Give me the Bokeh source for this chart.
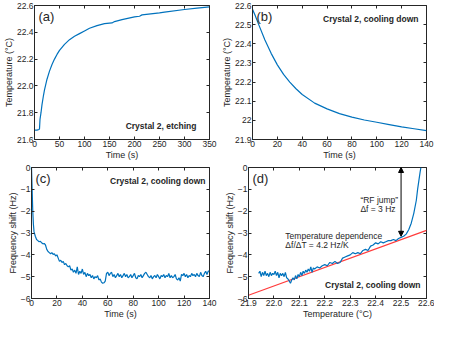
from bokeh.plotting import figure
from bokeh.layouts import column, row
from bokeh.models import FixedTicker, LinearAxis, Range1d, Label, Arrow, NormalHead
from bokeh.embed import file_html
from bokeh.resources import INLINE

# ---------------- data ----------------
# (a) Crystal 2, etching: temperature vs time
a_time = [0, 5, 9, 10, 11, 13, 15, 18, 20, 25, 30, 35, 40, 45, 50, 60, 70, 80, 90,
          100, 110, 125, 140, 155, 160, 175, 200, 210, 215, 250, 260, 300, 325, 350]
a_temp = [21.67, 21.67, 21.675, 21.68, 21.75, 21.80, 21.86, 21.93, 21.97, 22.05, 22.11,
          22.16, 22.20, 22.235, 22.265, 22.31, 22.345, 22.37, 22.39, 22.41, 22.43, 22.45,
          22.465, 22.47, 22.48, 22.495, 22.515, 22.52, 22.53, 22.545, 22.55, 22.57,
          22.58, 22.59]

# (b) Crystal 2, cooling down: temperature vs time
b_time = [0, 2, 5, 10, 15, 20, 25, 30, 35, 40, 50, 60, 70, 80, 90, 100, 110, 120, 130, 140]
b_temp = [22.58, 22.55, 22.50, 22.42, 22.35, 22.29, 22.24, 22.20, 22.165, 22.135, 22.09,
          22.06, 22.035, 22.017, 22.002, 21.99, 21.978, 21.966, 21.956, 21.946]

# (c) Crystal 2, cooling down: frequency shift vs time
c_time = [0, 0.5, 1, 1.5, 2, 3, 4, 5, 6, 7, 8, 9, 10, 11, 12, 13, 14, 15, 16, 17, 18, 19,
          20, 21, 22, 23, 24, 25, 26, 27, 28, 29, 30, 31, 32, 33, 34, 35, 36, 37, 38, 39,
          40, 41, 42, 43, 44, 45, 46, 47, 48, 49, 50, 51, 52, 53, 54, 55, 56, 57, 58, 59,
          60, 61, 62, 63, 64, 65, 66, 67, 68, 69, 70, 71, 72, 73, 74, 75, 76, 77, 78, 79,
          80, 81, 82, 83, 84, 85, 86, 87, 88, 89, 90, 91, 92, 93, 94, 95, 96, 97, 98, 99,
          100, 101, 102, 103, 104, 105, 106, 107, 108, 109, 110, 111, 112, 113, 114, 115,
          116, 117, 118, 119, 120, 121, 122, 123, 124, 125, 126, 127, 128, 129, 130, 131,
          132, 133, 134, 135, 136, 137, 138, 139, 140]
c_shift = [0, -1.0, -2.0, -2.6, -2.95, -3.15, -3.3, -3.35, -3.4, -3.38, -3.45, -3.5, -3.48,
           -3.55, -3.75, -3.85, -3.9, -3.95, -3.9, -3.98, -3.95, -4.05, -4.0, -4.15, -4.3,
           -4.25, -4.35, -4.3, -4.45, -4.4, -4.5, -4.55, -4.5, -4.7, -4.65, -4.8, -4.7,
           -4.85, -4.55, -4.9, -4.75, -4.85, -4.65, -4.9, -4.8, -5.0, -4.85, -4.95, -4.9,
           -5.05, -4.95, -5.1, -5.0, -5.05, -4.95, -5.15, -5.1, -5.25, -5.3, -5.28, -5.2,
           -4.85, -4.8, -4.95, -4.85, -4.8, -5.0, -4.9, -5.05, -4.95, -4.85, -5.0, -4.9,
           -5.05, -4.95, -4.85, -5.0, -4.9, -5.05, -5.0, -4.9, -5.05, -4.95, -4.85, -5.05,
           -5.1, -4.95, -5.0, -4.9, -5.05, -4.95, -4.85, -4.8, -4.9, -5.0, -5.05, -4.95,
           -5.1, -5.0, -4.95, -5.05, -4.9, -5.0, -5.1, -4.95, -5.0, -4.9, -5.05, -4.95,
           -5.0, -4.85, -5.05, -4.95, -5.05, -5.0, -4.9, -5.1, -5.15, -5.05, -5.2, -4.9,
           -4.95, -4.85, -5.0, -4.9, -5.05, -4.95, -5.0, -4.85, -4.95, -4.9, -5.0, -4.85,
           -4.95, -5.0, -4.8, -4.95, -5.0, -4.85, -4.75, -4.9, -4.75, -4.75]

# (d) Crystal 2, cooling down: frequency shift vs temperature
d_temp = [21.94, 21.945, 21.95, 21.955, 21.96, 21.965, 21.97, 21.975, 21.98, 21.985, 21.99,
          21.995, 22.0, 22.005, 22.01, 22.015, 22.02, 22.025, 22.03, 22.035, 22.04, 22.045,
          22.05, 22.055, 22.06, 22.065, 22.07, 22.075, 22.08, 22.085, 22.09, 22.095, 22.1,
          22.105, 22.11, 22.115, 22.12, 22.125, 22.13, 22.135, 22.14, 22.145, 22.15, 22.155,
          22.16, 22.17, 22.18, 22.19, 22.2, 22.21, 22.22, 22.23, 22.24, 22.25, 22.26, 22.27,
          22.28, 22.29, 22.3, 22.31, 22.32, 22.33, 22.34, 22.35, 22.36, 22.37, 22.38, 22.39,
          22.4, 22.41, 22.42, 22.43, 22.44, 22.45, 22.46, 22.47, 22.48, 22.49, 22.5, 22.51,
          22.52, 22.53, 22.54, 22.55, 22.56, 22.565, 22.57, 22.575, 22.578]
d_shift = [-4.85, -4.75, -5.0, -4.8, -4.95, -4.75, -4.95, -4.85, -5.0, -4.8, -4.95, -4.85,
           -4.9, -4.75, -4.95, -4.8, -5.05, -4.85, -4.95, -4.85, -5.0, -4.8, -5.05, -5.1,
           -5.2, -5.3, -5.15, -5.05, -5.15, -4.95, -5.1, -4.9, -5.0, -4.8, -4.95, -4.75,
           -4.85, -4.7, -4.8, -4.65, -4.75, -4.55, -4.8, -4.6, -4.65, -4.55, -4.6, -4.5,
           -4.45, -4.5, -4.35, -4.4, -4.3, -4.4, -4.35, -4.15, -4.1, -4.05, -4.0, -3.9,
           -3.95, -3.9, -3.95, -3.8, -3.75, -3.8, -3.6, -3.55, -3.45, -3.5, -3.4, -3.45,
           -3.4, -3.35, -3.35, -3.3, -3.35, -3.25, -3.2, -3.15, -3.05, -2.85, -2.55, -2.1,
           -1.5, -1.0, -0.6, -0.2, 0.0]
fit_temp = [21.9, 22.6]
fit_shift = [-5.85, -2.88]

# ticks and labels
a_xticks = [0, 50, 100, 150, 200, 250, 300, 350]
a_yticks = [21.6, 21.8, 22.0, 22.2, 22.4, 22.6]
a_ylabels = ["21.6", "21.8", "22.0", "22.2", "22.4", "22.6"]
b_xticks = [0, 20, 40, 60, 80, 100, 120, 140]
b_yticks = [21.9, 22.0, 22.1, 22.2, 22.3, 22.4, 22.5, 22.6]
b_ylabels = ["21.9", "22", "22.1", "22.2", "22.3", "22.4", "22.5", "22.6"]
c_xticks = [0, 20, 40, 60, 80, 100, 120, 140]
c_yticks = [-6, -5, -4, -3, -2, -1, 0]
d_xticks = [21.9, 22.0, 22.1, 22.2, 22.3, 22.4, 22.5, 22.6]
d_xlabels = ["21.9", "22.0", "22.1", "22.2", "22.3", "22.4", "22.5", "22.6"]

# ---------------- style ----------------
FONT = "Liberation Sans"
TXT = "#262626"
BLUE = "#0072BD"
RED = "#FF3B3B"
TICK_FS = "8.5px"
TITLE_FS = "9px"


def style_axis(ax, ticks, labels=None, show_labels=True):
    ax.ticker = FixedTicker(ticks=ticks, minor_ticks=[])
    if labels is not None:
        ax.major_label_overrides = {t: l for t, l in zip(ticks, labels)}
    ax.major_tick_in = 3
    ax.major_tick_out = 0
    ax.minor_tick_in = 0
    ax.minor_tick_out = 0
    ax.axis_line_color = TXT
    ax.major_tick_line_color = TXT
    ax.major_label_text_font = FONT
    ax.major_label_text_color = TXT
    ax.axis_label_text_font = FONT
    ax.axis_label_text_color = TXT
    ax.axis_label_text_font_style = "normal"
    ax.axis_label_text_font_size = TITLE_FS
    if show_labels:
        ax.major_label_text_font_size = TICK_FS
        ax.major_label_standoff = 1
        ax.axis_label_standoff = 0
    else:
        ax.major_label_text_font_size = "0px"
        ax.major_label_text_color = None
        ax.major_label_standoff = 0
        ax.axis_label_standoff = 0
        ax.axis_line_color = None


def make_fig(xr, yr, xticks, yticks, xlabel, ylabel, xlabels=None, ylabels=None,
             width=218, height=162, top=5, bottom=22, left=31, right=9):
    p = figure(width=width, height=height, x_range=Range1d(*xr), y_range=Range1d(*yr),
               output_backend="svg", toolbar_location=None,
               min_border_left=left, min_border_right=right,
               min_border_top=top, min_border_bottom=bottom)
    p.grid.visible = False
    p.outline_line_color = TXT
    p.background_fill_color = "white"
    p.border_fill_color = "white"
    style_axis(p.xaxis[0], xticks, xlabels)
    style_axis(p.yaxis[0], yticks, ylabels)
    p.xaxis[0].axis_label = xlabel
    p.yaxis[0].axis_label = ylabel
    ax_r = LinearAxis()
    style_axis(ax_r, yticks, show_labels=False)
    p.add_layout(ax_r, "right")
    ax_t = LinearAxis()
    style_axis(ax_t, xticks, show_labels=False)
    p.add_layout(ax_t, "above")
    return p


def panel_label(p, x, y, text):
    p.add_layout(Label(x=x, y=y, x_offset=4, y_offset=-3, text=text,
                       text_font=FONT, text_font_size="13px", text_color=TXT,
                       text_baseline="top", text_align="left"))


def note(p, x, y, text, align="right", baseline="bottom", xo=0, yo=0):
    p.add_layout(Label(x=x, y=y, x_offset=xo, y_offset=yo, text=text,
                       text_font=FONT, text_font_size="8.5px", text_color=TXT,
                       text_font_style="bold", text_baseline=baseline, text_align=align))


# (a)
pa = make_fig((0, 350), (21.6, 22.6), a_xticks, a_yticks, "Time (s)", "Temperature (°C)",
              ylabels=a_ylabels)
pa.line(a_time, a_temp, line_color=BLUE, line_width=1.2)
panel_label(pa, 0, 22.6, "(a)")
note(pa, 350, 21.6, "Crystal 2, etching", xo=-13, yo=9)

# (b)
pb = make_fig((0, 140), (21.9, 22.6), b_xticks, b_yticks, "Time (s)", "Temperature (°C)",
              ylabels=b_ylabels, width=216, left=30, right=8)
pb.line(b_time, b_temp, line_color=BLUE, line_width=1.2)
panel_label(pb, 0, 22.6, "(b)")
note(pb, 140, 22.6, "Crystal 2, cooling down", baseline="top", xo=-8, yo=-8)

# (c)
pc = make_fig((0, 140), (-6, 0), c_xticks, c_yticks, "Time (s)", "Frequency shift (Hz)",
              height=159, bottom=19)
pc.line(c_time, c_shift, line_color=BLUE, line_width=1.2)
panel_label(pc, 0, 0, "(c)")
note(pc, 140, 0, "Crystal 2, cooling down", baseline="top", xo=-4, yo=-8)

# (d)
pd_ = make_fig((21.9, 22.6), (-6, 0), d_xticks, c_yticks, "Temperature (°C)",
               "Frequency shift (Hz)", xlabels=d_xlabels, width=216, height=159,
               bottom=19, left=30, right=8)
pd_.line(fit_temp, fit_shift, line_color=RED, line_width=1.2)
pd_.line(d_temp, d_shift, line_color=BLUE, line_width=1.2)
panel_label(pd_, 21.9, 0, "(d)")
note(pd_, 22.6, -6, "Crystal 2, cooling down", xo=-6, yo=9)
pd_.add_layout(Arrow(start=NormalHead(size=5, fill_color="black", line_color="black"),
                     end=NormalHead(size=5, fill_color="black", line_color="black"),
                     x_start=22.5, y_start=-3.15, x_end=22.5, y_end=0,
                     line_color="black", line_width=1))
for txt, yy in [("\u201cRF jump\u201d", -1.5), ("\u0394f = 3 Hz", -1.92)]:
    pd_.add_layout(Label(x=22.34, y=yy, text=txt, text_font=FONT, text_font_size="8.5px",
                         text_color=TXT, text_baseline="middle", text_align="left"))
for txt, yy in [("Temperature dependence", -3.14), ("\u0394f/\u0394T = 4.2 Hz/K", -3.56)]:
    pd_.add_layout(Label(x=22.045, y=yy, text=txt, text_font=FONT, text_font_size="8.5px",
                         text_color=TXT, text_baseline="middle", text_align="left"))

layout = column(row(pa, pb), row(pc, pd_))
open("out.html", "w").write(file_html(layout, INLINE))
